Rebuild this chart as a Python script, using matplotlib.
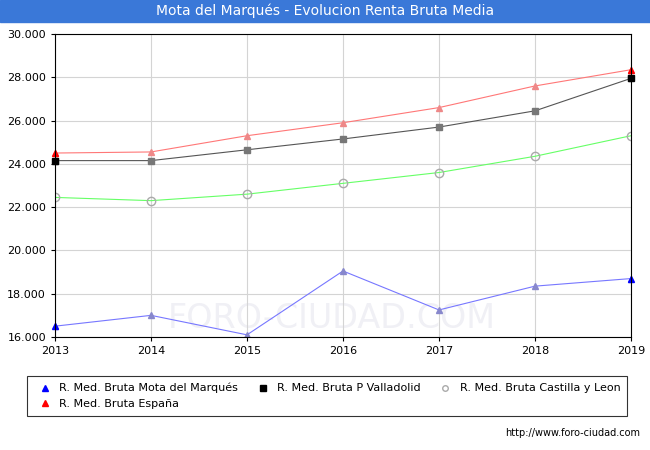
import matplotlib.pyplot as plt
from matplotlib.lines import Line2D

years = [2013, 2014, 2015, 2016, 2017, 2018, 2019]
mota = [16500, 17000, 16100, 19050, 17250, 18350, 18700]
valladolid = [24150, 24150, 24650, 25150, 25700, 26450, 27950]
castilla = [22450, 22300, 22600, 23100, 23600, 24350, 25300]
espana = [24500, 24550, 25300, 25900, 26600, 27600, 28350]
yticks = [16000, 18000, 20000, 22000, 24000, 26000, 28000, 30000]

fig = plt.figure(figsize=(6.5, 4.5), dpi=100)
fig.patches.append(plt.Rectangle((0, 1 - 22 / 450), 1, 22 / 450, transform=fig.transFigure,
                                 color="#3a78d8", zorder=0))
fig.text(0.5, 1 - 11 / 450, "Mota del Marqués - Evolucion Renta Bruta Media",
         ha="center", va="center", color="white", fontsize=10)

ax = fig.add_axes([55 / 650, 1 - 337 / 450, 576 / 650, 303 / 450])
ax.plot(years, mota, color="#7777ff", lw=0.8, marker="^", ms=5, mfc="#8888cc", mec="#8888cc")
ax.plot(years, valladolid, color="#555555", lw=0.8, marker="s", ms=4, mfc="#777777", mec="#777777")
ax.plot(years, castilla, color="#66ff66", lw=0.8, marker="o", ms=6, mfc="none", mec="#aaaaaa")
ax.plot(years, espana, color="#ff7777", lw=0.8, marker="^", ms=5, mfc="#ee8888", mec="#ee8888")
# edge markers drawn solid like the original
ax.plot([2013, 2019], [mota[0], mota[-1]], "b^", ms=5, clip_on=False)
ax.plot([2013, 2019], [valladolid[0], valladolid[-1]], "ks", ms=4, clip_on=False)
ax.plot([2013, 2019], [espana[0], espana[-1]], "r^", ms=5, clip_on=False)

ax.set_xlim(2013, 2019)
ax.set_ylim(16000, 30000)
ax.set_xticks(years)
ax.set_yticks(yticks)
ax.set_yticklabels([f"{v:,}".replace(",", ".") for v in yticks])
ax.tick_params(labelsize=8, length=3)
ax.grid(True, color="#d4d4d4", lw=0.8)
ax.set_axisbelow(True)

ax.text(0.48, 0.06, "FORO-CIUDAD.COM", fontsize=24, color="#f0f0f5", ha="center", va="center",
        transform=ax.transAxes, zorder=0)

handles = [
    Line2D([], [], color="b", marker="^", ls="none", ms=5, label="R. Med. Bruta Mota del Marqués"),
    Line2D([], [], color="r", marker="^", ls="none", ms=5, label="R. Med. Bruta España"),
    Line2D([], [], color="k", marker="s", ls="none", ms=4, label="R. Med. Bruta P Valladolid"),
    Line2D([], [], color="#aaaaaa", marker="o", mfc="none", ls="none", ms=4, label="R. Med. Bruta Castilla y Leon"),
]
leg = fig.legend(handles=handles, loc="center", bbox_to_anchor=(327 / 650, 1 - 396 / 450),
                 ncol=3, fontsize=8, frameon=True, fancybox=False, edgecolor="#000000",
                 handletextpad=0.3, columnspacing=1.2, borderpad=0.6)
leg.get_frame().set_linewidth(0.8)

fig.text(640 / 650, 1 - 433 / 450, "http://www.foro-ciudad.com", ha="right", va="center", fontsize=7)

fig.savefig("out.png", dpi=100)
